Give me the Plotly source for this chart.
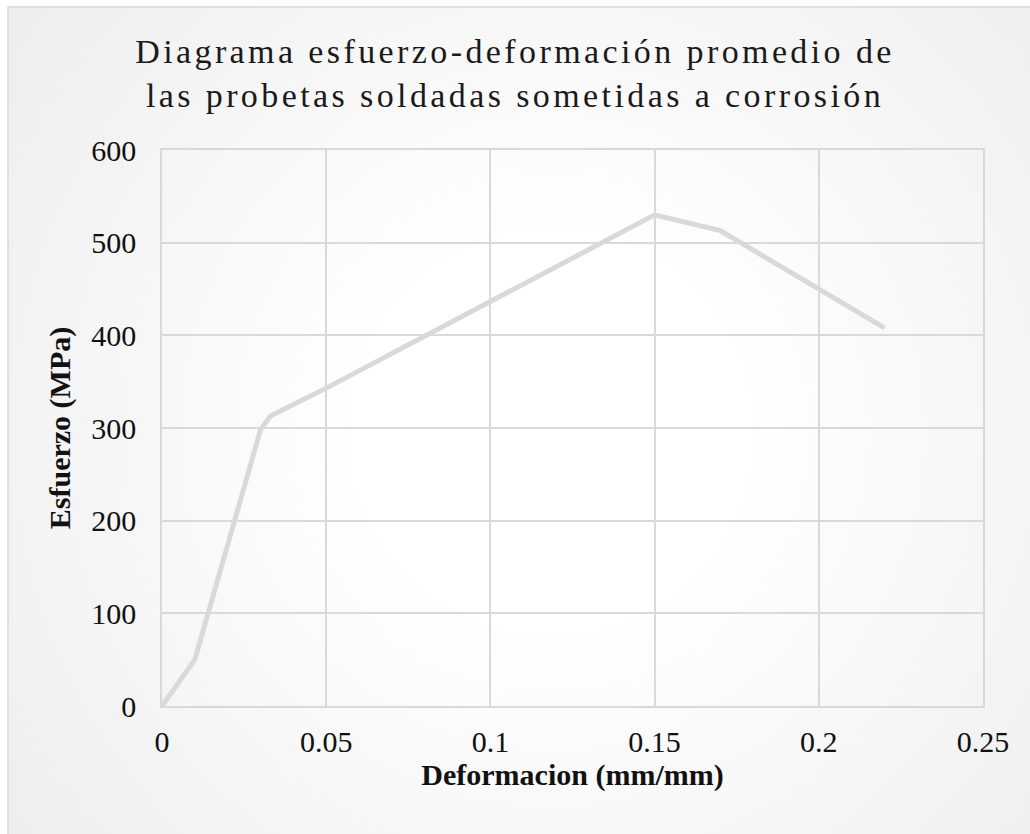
import base64
import struct
import zlib

import numpy as np
import plotly.graph_objects as go

# Average stress-strain curve of the welded, corroded specimens
deformacion = [0.0, 0.01, 0.03, 0.033, 0.05, 0.10, 0.15, 0.17, 0.22]
esfuerzo = [0, 50, 298, 313, 343, 436, 530, 513, 408]

x_ticks = [0, 0.05, 0.1, 0.15, 0.2, 0.25]
x_tick_text = ["0", "0.05", "0.1", "0.15", "0.2", "0.25"]
y_ticks = [0, 100, 200, 300, 400, 500, 600]

W, H = 1030, 834
L, R, T, B = 162, 47, 150, 128
PW, PH = W - L - R, H - T - B


def png_data_uri(rgb):
    """Encode an (h, w, 3) uint8 array as a PNG data URI."""
    h, w, _ = rgb.shape
    raw = b"".join(b"\x00" + rgb[i].tobytes() for i in range(h))

    def chunk(tag, data):
        c = struct.pack(">I", len(data)) + tag + data
        return c + struct.pack(">I", zlib.crc32(tag + data) & 0xFFFFFFFF)

    png = b"\x89PNG\r\n\x1a\n"
    png += chunk(b"IHDR", struct.pack(">IIBBBBB", w, h, 8, 2, 0, 0, 0))
    png += chunk(b"IDAT", zlib.compress(raw, 9))
    png += chunk(b"IEND", b"")
    return "data:image/png;base64," + base64.b64encode(png).decode()


# Soft radial background of the chart area (white centre, light grey edges)
gw, gh = 258, 209
yy, xx = np.mgrid[0:gh, 0:gw]
cx, cy = gw * 0.52, gh * 0.50
r = np.sqrt((xx - cx) ** 2 + (yy - cy) ** 2) / np.sqrt(cx ** 2 + cy ** 2)
t = np.clip((r - 0.30) / 0.70, 0, 1)
level = (255 - t * 17).astype(np.uint8)
bg = np.dstack([level, level, level])
bg_uri = png_data_uri(bg)


def px_to_paper_x(px):
    return (px - L) / PW


def px_to_paper_y(py):
    return (H - B - py) / PH


frame_x0, frame_x1 = px_to_paper_x(8), px_to_paper_x(W + 20)
frame_y0, frame_y1 = px_to_paper_y(H + 20), px_to_paper_y(7)

SERIF = "Liberation Serif, Times New Roman, serif"

title_text = (
    "Diagrama esfuerzo-deformación promedio de<br>"
    "las probetas soldadas sometidas a corrosión"
)

fig = go.Figure()
fig.add_trace(
    go.Scatter(
        x=deformacion,
        y=esfuerzo,
        mode="lines",
        line=dict(color="#d9d9d9", width=5),
        hoverinfo="x+y",
        showlegend=False,
    )
)

fig.update_layout(
    width=W,
    height=H,
    margin=dict(l=L, r=R, t=T, b=B, autoexpand=False),
    paper_bgcolor="white",
    plot_bgcolor="rgba(0,0,0,0)",
    title=dict(
        text=title_text,
        font=dict(family=SERIF, size=34, color="#1a1a1a"),
        x=0.5,
        xref="container",
        xanchor="center",
        y=1 - 63 / H,
        yref="container",
        yanchor="top",
    ),
    images=[
        dict(
            source=bg_uri,
            xref="paper",
            yref="paper",
            x=frame_x0,
            y=frame_y1,
            sizex=frame_x1 - frame_x0,
            sizey=frame_y1 - frame_y0,
            xanchor="left",
            yanchor="top",
            sizing="stretch",
            layer="below",
        )
    ],
    shapes=[
        dict(
            type="rect",
            xref="paper",
            yref="paper",
            x0=frame_x0,
            x1=frame_x1,
            y0=frame_y0,
            y1=frame_y1,
            line=dict(color="#d9d9d9", width=1.5),
            fillcolor="rgba(0,0,0,0)",
            layer="below",
        )
    ],
    xaxis=dict(
        range=[0, 0.25],
        tickvals=x_ticks,
        ticktext=x_tick_text,
        showgrid=True,
        gridcolor="#d9d9d9",
        gridwidth=1.5,
        zeroline=False,
        showline=False,
        ticks="",
        ticklabelstandoff=8,
        tickfont=dict(family=SERIF, size=30, color="#111111"),
        title=dict(
            text="<b>Deformacion (mm/mm)</b>",
            font=dict(family=SERIF, size=30, color="#111111"),
            standoff=0,
        ),
        fixedrange=True,
    ),
    yaxis=dict(
        range=[0, 600],
        tickvals=y_ticks,
        showgrid=True,
        gridcolor="#d9d9d9",
        gridwidth=1.5,
        zeroline=False,
        showline=False,
        ticks="",
        ticklabelstandoff=18,
        tickfont=dict(family=SERIF, size=30, color="#111111"),
        title=dict(
            text="<b>Esfuerzo (MPa)</b>",
            font=dict(family=SERIF, size=30, color="#111111"),
            standoff=12,
        ),
        fixedrange=True,
    ),
)

# Vertical gridlines at the range ends (x = 0 and x = 0.25) and the top edge
fig.update_xaxes(showline=True, linecolor="#d9d9d9", linewidth=1.5, mirror=True)
fig.update_yaxes(showline=True, linecolor="#d9d9d9", linewidth=1.5, mirror=True)

# Wider tracking on the chart title
title_tracking = """
var gd = document.getElementById('{plot_id}');
gd.querySelectorAll('.gtitle').forEach(function (el) {
    el.style.letterSpacing = '3.4px';
});
"""

fig.write_html("out.html", config={"displayModeBar": False}, post_script=title_tracking)
